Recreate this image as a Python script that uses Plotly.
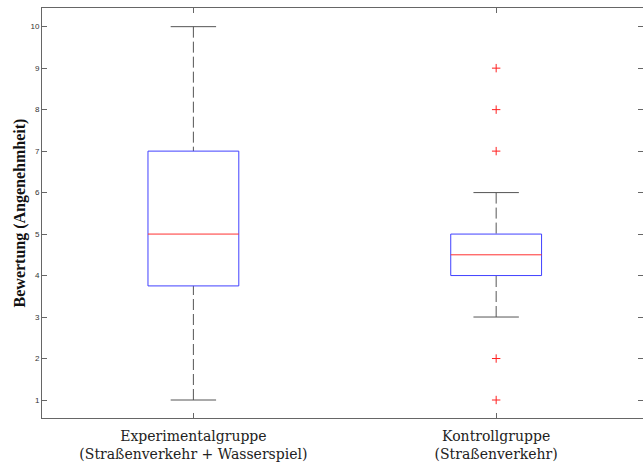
import plotly.graph_objects as go

groups = ["Experimentalgruppe<br>(Straßenverkehr + Wasserspiel)", "Kontrollgruppe<br>(Straßenverkehr)"]
positions = [1, 2]
q1 = [3.75, 4.0]
median = [5.0, 4.5]
q3 = [7.0, 5.0]
lower_whisker = [1.0, 3.0]
upper_whisker = [10.0, 6.0]
outliers = [[], [1, 2, 7, 8, 9]]
y_ticks = [1, 2, 3, 4, 5, 6, 7, 8, 9, 10]

BOX_HALF = 0.15
CAP_HALF = 0.075
WHISK_COLOR = "#555555"

fig = go.Figure()

for i, c in enumerate(positions):
    # whiskers (dashed)
    fig.add_trace(go.Scatter(
        x=[c, c, None, c, c],
        y=[upper_whisker[i], q3[i], None, lower_whisker[i], q1[i]],
        mode="lines", line=dict(color=WHISK_COLOR, width=1, dash="11px,4px"),
        hoverinfo="skip", showlegend=False))
    # caps
    fig.add_trace(go.Scatter(
        x=[c - CAP_HALF, c + CAP_HALF, None, c - CAP_HALF, c + CAP_HALF],
        y=[upper_whisker[i], upper_whisker[i], None, lower_whisker[i], lower_whisker[i]],
        mode="lines", line=dict(color=WHISK_COLOR, width=1),
        hoverinfo="skip", showlegend=False))
    # box
    fig.add_trace(go.Scatter(
        x=[c - BOX_HALF, c + BOX_HALF, c + BOX_HALF, c - BOX_HALF, c - BOX_HALF],
        y=[q1[i], q1[i], q3[i], q3[i], q1[i]],
        mode="lines", line=dict(color="#4040ff", width=1),
        hoverinfo="skip", showlegend=False))
    # median
    fig.add_trace(go.Scatter(
        x=[c - BOX_HALF, c + BOX_HALF],
        y=[median[i], median[i]],
        mode="lines", line=dict(color="#ff3030", width=1),
        hoverinfo="skip", showlegend=False))
    # outliers
    if outliers[i]:
        fig.add_trace(go.Scatter(
            x=[c] * len(outliers[i]), y=outliers[i],
            mode="markers",
            marker=dict(symbol="cross-thin", size=6, line=dict(color="#ff2020", width=1)),
            hoverinfo="skip", showlegend=False))

axis_common = dict(
    showline=True, linecolor="#666666", linewidth=1, mirror="ticks",
    ticks="inside", ticklen=5, tickcolor="#666666",
    showgrid=False, zeroline=False, automargin=False,
)

fig.update_layout(
    width=643, height=468,
    margin=dict(l=42, r=0, t=8, b=50),
    paper_bgcolor="white", plot_bgcolor="white",
    xaxis=dict(range=[0.5, 2.485], tickvals=positions, ticktext=groups,
               tickfont=dict(family="DejaVu Serif", size=14, color="#222222"),
               ticklabelstandoff=5,
               **axis_common),
    yaxis=dict(range=[0.566, 10.45], tickvals=y_ticks,
               tickfont=dict(family="Liberation Sans", size=8, color="#333333"),
               title=dict(text="<b>Bewertung (Angenehmheit)</b>",
                          font=dict(family="Liberation Serif", size=16, color="#111111"),
                          standoff=0),
               **axis_common),
)

fig.write_html(
    "out.html",
    config={"responsive": False, "displayModeBar": False},
    post_script="document.body.style.margin='0';document.body.style.overflow='hidden';",
)
